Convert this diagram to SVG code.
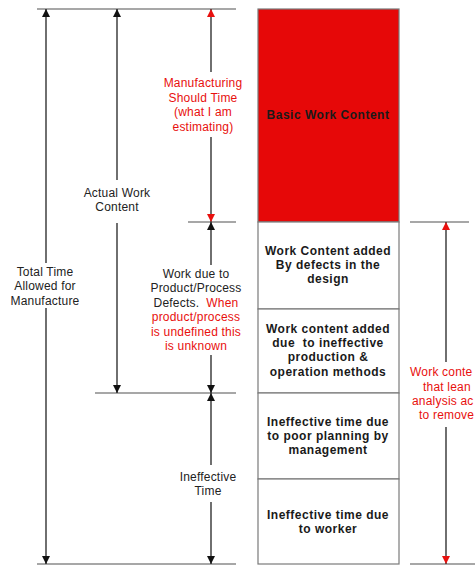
<svg xmlns="http://www.w3.org/2000/svg" width="475" height="566" viewBox="0 0 475 566">
  <style>
    .lbl { font-family: "Liberation Sans", Arial, sans-serif; font-size: 12px; letter-spacing: 0.2px; fill: #222; text-anchor: middle; }
    .red { fill: #e8100e; }
    .box { font-family: "Liberation Sans", Arial, sans-serif; font-size: 12px; letter-spacing: 0.5px; font-weight: bold; fill: #1a1a1a; text-anchor: middle; }
    .cell { fill: #ffffff; stroke: #7a7a7a; stroke-width: 1.2; }
    .tick { stroke: #8a8a8a; stroke-width: 1.5; }
    .dim { stroke: #222; stroke-width: 1.3; fill: none; }
    .arr { marker-start: url(#headK); }
    .arrEnd { marker-end: url(#headK); }
    .arrR { marker-start: url(#headR); }
    .arrEndR { marker-end: url(#headR); }
  </style>
  <defs>
    <marker id="headK" viewBox="0 0 10 10" refX="10" refY="5" markerWidth="9" markerHeight="8" markerUnits="userSpaceOnUse" orient="auto-start-reverse">
      <path d="M0,0 L10,5 L0,10 z" fill="#111"/>
    </marker>
    <marker id="headR" viewBox="0 0 10 10" refX="10" refY="5" markerWidth="9" markerHeight="8" markerUnits="userSpaceOnUse" orient="auto-start-reverse">
      <path d="M0,0 L10,5 L0,10 z" fill="#e8100e"/>
    </marker>
  </defs>

  <!-- reference ticks -->
  <g id="ticks">
    <line class="tick" x1="37" y1="9" x2="236" y2="9"/>
    <line class="tick" x1="188" y1="222" x2="236" y2="222"/>
    <line class="tick" x1="95" y1="393" x2="236" y2="393"/>
    <line class="tick" x1="37" y1="564" x2="236" y2="564"/>
    <line class="tick" x1="410" y1="222" x2="469" y2="222"/>
    <line class="tick" x1="410" y1="564" x2="475" y2="564"/>
  </g>

  <!-- stacked time blocks -->
  <g id="basic-work">
    <rect x="258" y="9" width="141" height="213" fill="#e60808" stroke="#7a7a7a" stroke-width="1.2"/>
    <text class="box" x="328" y="119">Basic Work Content</text>
  </g>
  <g id="design-defects">
    <rect class="cell" x="258" y="222" width="141" height="87"/>
    <text class="box" x="328" y="255">Work Content added</text>
    <text class="box" x="328" y="269">By defects in the</text>
    <text class="box" x="328" y="283">design</text>
  </g>
  <g id="methods">
    <rect class="cell" x="258" y="309" width="141" height="84"/>
    <text class="box" x="328" y="333">Work content added</text>
    <text class="box" x="328" y="347" xml:space="preserve">due  to ineffective</text>
    <text class="box" x="328" y="361">production &amp;</text>
    <text class="box" x="328" y="376">operation methods</text>
  </g>
  <g id="planning">
    <rect class="cell" x="258" y="393" width="141" height="86"/>
    <text class="box" x="328" y="426">Ineffective time due</text>
    <text class="box" x="328" y="440">to poor planning by</text>
    <text class="box" x="328" y="454">management</text>
  </g>
  <g id="worker">
    <rect class="cell" x="258" y="479" width="141" height="85"/>
    <text class="box" x="328" y="519">Ineffective time due</text>
    <text class="box" x="328" y="533">to worker</text>
  </g>

  <!-- dimension arrows -->
  <g id="connectors">
    <line class="dim arr" x1="46" y1="9" x2="46" y2="263"/>
    <line class="dim arrEnd" x1="46" y1="308" x2="46" y2="564"/>

    <line class="dim arr" x1="117" y1="9" x2="117" y2="180"/>
    <line class="dim arrEnd" x1="117" y1="223" x2="117" y2="393"/>

    <line class="dim arrR" x1="211" y1="9" x2="211" y2="72"/>
    <line class="dim arrEndR" x1="211" y1="137" x2="211" y2="222"/>

    <line class="dim arr" x1="211" y1="222" x2="211" y2="265"/>
    <line class="dim arrEnd" x1="211" y1="355" x2="211" y2="393"/>

    <line class="dim arr" x1="211" y1="393" x2="211" y2="465"/>
    <line class="dim arrEnd" x1="211" y1="502" x2="211" y2="564"/>

    <line class="dim arrR" x1="446" y1="222" x2="446" y2="362"/>
    <line class="dim arrEndR" x1="446" y1="427" x2="446" y2="564"/>
  </g>

  <!-- dimension labels -->
  <g id="total-time">
    <text class="lbl" x="45" y="276">Total Time</text>
    <text class="lbl" x="45" y="290">Allowed for</text>
    <text class="lbl" x="45" y="305">Manufacture</text>
  </g>
  <g id="actual-work">
    <text class="lbl" x="117" y="197">Actual Work</text>
    <text class="lbl" x="117" y="211">Content</text>
  </g>
  <g id="should-time">
    <text class="lbl red" x="203" y="87">Manufacturing</text>
    <text class="lbl red" x="203" y="102">Should Time</text>
    <text class="lbl red" x="203" y="116">(what I am</text>
    <text class="lbl red" x="203" y="131">estimating)</text>
  </g>
  <g id="defect-work">
    <text class="lbl" x="196" y="278">Work due to</text>
    <text class="lbl" x="196" y="292">Product/Process</text>
    <text class="lbl" x="196" y="307" xml:space="preserve">Defects.  <tspan class="red">When</tspan></text>
    <text class="lbl red" x="196" y="321">product/process</text>
    <text class="lbl red" x="196" y="336">is undefined this</text>
    <text class="lbl red" x="196" y="350">is unknown</text>
  </g>
  <g id="ineffective-time">
    <text class="lbl" x="208" y="481">Ineffective</text>
    <text class="lbl" x="208" y="495">Time</text>
  </g>
  <g id="lean-target">
    <text class="lbl red" x="410" y="376" style="text-anchor:start">Work conte</text>
    <text class="lbl red" x="423" y="391" style="text-anchor:start">that lean</text>
    <text class="lbl red" x="412" y="405" style="text-anchor:start">analysis ac</text>
    <text class="lbl red" x="419" y="419" style="text-anchor:start">to remove</text>
  </g>
</svg>
